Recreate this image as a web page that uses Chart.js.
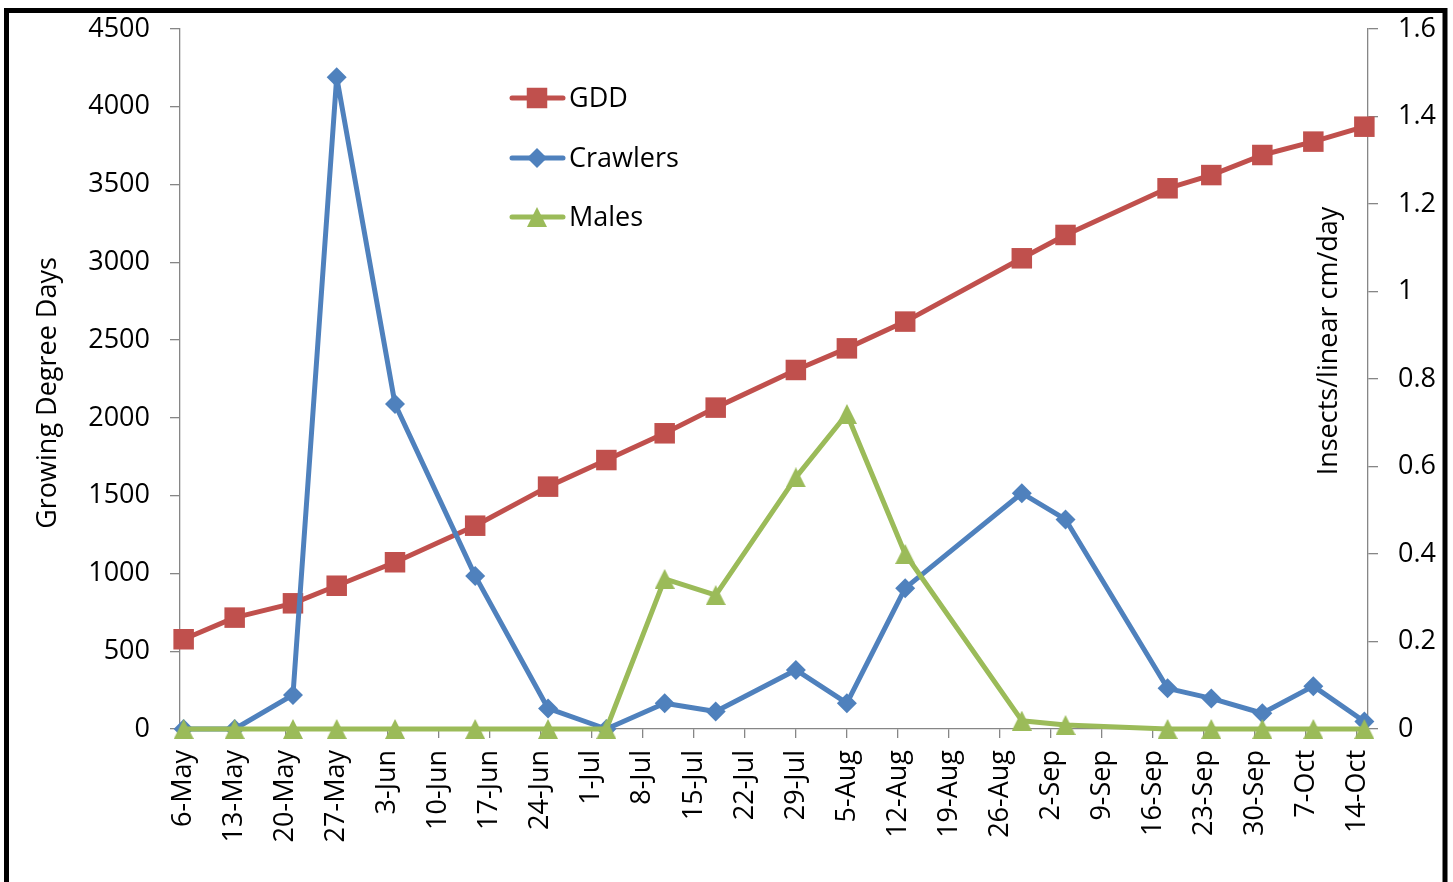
<!DOCTYPE html>
<html>
<head>
<meta charset="utf-8">
<script src="https://cdn.jsdelivr.net/npm/chart.js@4.4.0/dist/chart.umd.min.js"></script>
<style>
  html, body { margin: 0; padding: 0; background: #fff; }
  #wrap { width: 1453px; height: 882px; position: relative; }
</style>
</head>
<body>
<div id="wrap"><canvas id="gddChart"></canvas></div>
<script>
// sample dates and values
const sampleDates = ['6-May', '13-May', '21-May', '27-May', '4-Jun', '15-Jun', '25-Jun', '3-Jul', '11-Jul', '18-Jul',
  '29-Jul', '5-Aug', '13-Aug', '29-Aug', '4-Sep', '18-Sep', '24-Sep', '1-Oct', '8-Oct', '15-Oct'];
const gddValues = [577, 716, 808, 921, 1072, 1307, 1558, 1729, 1901, 2066,
  2308, 2447, 2619, 3026, 3176, 3476, 3561, 3690, 3776, 3872];
const crawlerValues = [0, 0, 0.078, 1.49, 0.743, 0.35, 0.047, 0, 0.059, 0.04,
  0.135, 0.059, 0.322, 0.539, 0.479, 0.093, 0.07, 0.036, 0.098, 0.017];
const maleValues = [0, 0, 0, 0, 0, 0, 0, 0, 0.343, 0.306,
  0.575, 0.72, 0.40, 0.019, 0.009, 0, 0, 0, 0, 0];
const tickLabels = ['6-May', '13-May', '20-May', '27-May', '3-Jun', '10-Jun', '17-Jun', '24-Jun', '1-Jul', '8-Jul',
  '15-Jul', '22-Jul', '29-Jul', '5-Aug', '12-Aug', '19-Aug', '26-Aug', '2-Sep', '9-Sep', '16-Sep',
  '23-Sep', '30-Sep', '7-Oct', '14-Oct'];

const FONT = '"Open Sans", sans-serif';
const FONT_SIZE = 27;
const AXIS_GREY = '#868686';
const RED = '#C0504D', BLUE = '#4F81BD', GREEN = '#9BBB59';

const monthIndex = { May: 4, Jun: 5, Jul: 6, Aug: 7, Sep: 8, Oct: 9 };
function dayOf(label) {
  const [d, m] = label.split('-');
  return (Date.UTC(2013, monthIndex[m], +d) - Date.UTC(2013, 4, 6)) / 86400000;
}
const toPoints = vals => vals.map((v, i) => ({ x: dayOf(sampleDates[i]), y: v }));

// excel-style triangle marker
function triangleMarker(color, w, h) {
  const c = document.createElement('canvas');
  c.width = w; c.height = h;
  const g = c.getContext('2d');
  g.fillStyle = color;
  g.beginPath();
  g.moveTo(w / 2, 0); g.lineTo(w, h); g.lineTo(0, h);
  g.closePath(); g.fill();
  return c;
}
const triImg = triangleMarker(GREEN, 20, 20);

const noPad = s => { s.paddingTop = 0; s.paddingBottom = 0; };

const decorations = {
  id: 'decorations',
  afterDraw(chart) {
    const ctx = chart.ctx;
    ctx.save();
    // outer frame
    ctx.strokeStyle = '#000';
    ctx.lineWidth = 5;
    ctx.strokeRect(6.5, 10.5, 1438.5, 900);

    // axis titles
    ctx.fillStyle = '#000';
    ctx.font = FONT_SIZE + 'px ' + FONT;
    ctx.textAlign = 'center';
    ctx.textBaseline = 'alphabetic';
    [['Growing Degree Days', 56, 393], ['Insects/linear cm/day', 1337, 341]].forEach(([t, x, y]) => {
      ctx.save();
      ctx.translate(x, y);
      ctx.rotate(-Math.PI / 2);
      ctx.fillText(t, 0, 0);
      ctx.restore();
    });

    // legend
    const rows = [98, 158, 217];
    chart.data.datasets.forEach((ds, i) => {
      const y = rows[i];
      ctx.strokeStyle = ds.borderColor;
      ctx.lineWidth = 5;
      ctx.lineCap = 'round';
      ctx.beginPath();
      ctx.moveTo(512, y); ctx.lineTo(563, y);
      ctx.stroke();
      ctx.fillStyle = ds.backgroundColor;
      const cx = 537;
      if (ds.pointStyle === 'rect') {
        ctx.fillRect(cx - 10.25, y - 10.25, 20.5, 20.5);
      } else if (ds.pointStyle === 'rectRot') {
        ctx.beginPath();
        ctx.moveTo(cx, y - 10); ctx.lineTo(cx + 10, y); ctx.lineTo(cx, y + 10); ctx.lineTo(cx - 10, y);
        ctx.closePath(); ctx.fill();
      } else {
        ctx.drawImage(ds.pointStyle, cx - 10, y - 10);
      }
      ctx.fillStyle = '#000';
      ctx.textAlign = 'left';
      ctx.fillText(ds.label, 569, y + 9);
    });
    ctx.restore();
  }
};

const lineStyle = { borderWidth: 5, tension: 0, borderJoinStyle: 'round', borderCapStyle: 'round', pointBorderWidth: 0, clip: false };

new Chart(document.getElementById('gddChart'), {
  type: 'line',
  data: {
    datasets: [
      {
        label: 'GDD', data: toPoints(gddValues), yAxisID: 'y', order: 3,
        borderColor: RED, backgroundColor: RED, pointStyle: 'rect', pointRadius: 14.5, ...lineStyle
      },
      {
        label: 'Crawlers', data: toPoints(crawlerValues), yAxisID: 'y1', order: 2,
        borderColor: BLUE, backgroundColor: BLUE, pointStyle: 'rectRot', pointRadius: 10, ...lineStyle
      },
      {
        label: 'Males', data: toPoints(maleValues), yAxisID: 'y1', order: 1,
        borderColor: GREEN, backgroundColor: GREEN, pointStyle: triImg, pointRadius: 10, ...lineStyle
      }
    ]
  },
  options: {
    responsive: true,
    maintainAspectRatio: false,
    animation: false,
    layout: { padding: { top: 29, left: 0, right: 0, bottom: 0 } },
    plugins: {
      legend: { display: false },
      tooltip: { enabled: false }
    },
    scales: {
      x: {
        type: 'linear',
        min: -0.5,
        max: 162.5,
        afterBuildTicks: s => { s.ticks = tickLabels.map(l => ({ value: dayOf(l) })); },
        afterFit: s => { s.height = 882 - 729; s.paddingLeft = 0; s.paddingRight = 0; },
        grid: { drawOnChartArea: false, drawTicks: true, tickLength: 9, color: AXIS_GREY, lineWidth: 1.3 },
        border: { color: AXIS_GREY, width: 1.3 },
        ticks: {
          autoSkip: false, minRotation: 90, maxRotation: 90, padding: 12,
          color: '#000', font: { family: FONT, size: FONT_SIZE },
          callback: (v, i) => tickLabels[i]
        }
      },
      y: {
        position: 'left',
        min: 0, max: 4500,
        afterFit: s => { s.width = 180; noPad(s); },
        grid: { drawOnChartArea: false, drawTicks: true, tickLength: 10, color: AXIS_GREY, lineWidth: 1.3 },
        border: { color: AXIS_GREY, width: 1.3 },
        ticks: {
          stepSize: 500, padding: 20, color: '#000', font: { family: FONT, size: FONT_SIZE },
          callback: v => String(v)
        }
      },
      y1: {
        position: 'right',
        min: 0, max: 1.6,
        afterFit: s => { s.width = 1453 - 1368; noPad(s); },
        grid: { drawOnChartArea: false, drawTicks: true, tickLength: 10, color: AXIS_GREY, lineWidth: 1.3 },
        border: { color: AXIS_GREY, width: 1.3 },
        ticks: {
          stepSize: 0.2, padding: 20, color: '#000', font: { family: FONT, size: FONT_SIZE },
          callback: v => String(+v.toFixed(1))
        }
      }
    }
  },
  plugins: [decorations]
});
</script>
</body>
</html>
